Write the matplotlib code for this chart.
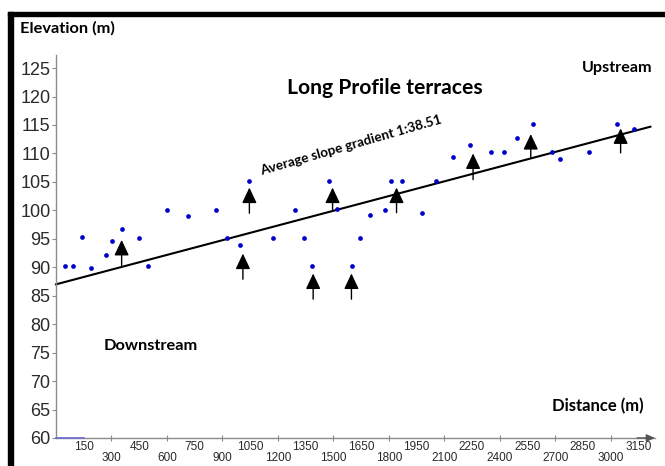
import matplotlib
matplotlib.use("Agg")
import matplotlib.pyplot as plt
from matplotlib.patches import Rectangle

# ---- data ----
distance = [48, 92, 143, 189, 272, 303, 355, 451, 496, 600, 712, 863, 924, 997,
            1046, 1175, 1291, 1343, 1386, 1478, 1518, 1599, 1642, 1696, 1777,
            1813, 1873, 1981, 2055, 2145, 2237, 2354, 2424, 2492, 2578, 2683,
            2728, 2883, 3033, 3128]
elevation = [90.3, 90.3, 95.3, 89.8, 92.2, 94.6, 96.8, 95.2, 90.2, 100.1,
             99.0, 100.1, 95.2, 94.0, 105.2, 95.2, 100.1, 95.2, 90.3, 105.2,
             100.2, 90.3, 95.2, 99.1, 100.1, 105.2, 105.2, 99.6, 105.2, 109.3,
             111.5, 110.2, 110.2, 112.7, 115.2, 110.3, 109.0, 110.2, 115.2, 114.3]

trend_x = [0, 3215]
trend_y = [87.0, 114.7]

arrow_x = [355, 1046, 1011, 1391, 1496, 1598, 1842, 2256, 2568, 3054]
arrow_tail = [90.3, 99.5, 87.9, 84.4, 100.1, 84.4, 99.6, 105.4, 109.3, 110.1]
arrow_tip = [94.8, 104.0, 92.4, 88.9, 104.0, 88.9, 104.0, 110.0, 113.4, 114.4]

yticks = list(range(60, 130, 5))
xticks_upper = list(range(150, 3300, 300))   # 150, 450, ... 3150
xticks_lower = list(range(300, 3150, 300))   # 300, 600, ... 3000

W, H = 665, 466
fig = plt.figure(figsize=(W / 100, H / 100), dpi=100)
fig.patch.set_facecolor("white")

# frame decorations (black border at top and left)
fig.patches.append(Rectangle((8 / W, 0), 5 / W, 1 - 12 / H, transform=fig.transFigure,
                             color="black", zorder=0))
fig.patches.append(Rectangle((8 / W, 1 - 16 / H), 1 - 8 / W, 4 / H, transform=fig.transFigure,
                             color="black", zorder=0))

ax_left, ax_right, ax_bottom, ax_top = 56, 655, 438, 55
ax = fig.add_axes([ax_left / W, 1 - ax_bottom / H, (ax_right - ax_left) / W,
                   (ax_bottom - ax_top) / H])
ax.set_xlim(0, 3240)
ax.set_ylim(60, 127.3)
ax.patch.set_alpha(0)

for s in ["top", "right"]:
    ax.spines[s].set_visible(False)
ax.spines["left"].set_color("#8c8c8c")
ax.spines["bottom"].set_color("#8c8c8c")
ax.spines["left"].set_linewidth(1.0)
ax.spines["bottom"].set_linewidth(1.0)

# y ticks
ax.set_yticks(yticks)
ax.set_yticklabels([str(v) for v in yticks], fontfamily="Liberation Sans", fontsize=13,
                   color="#2a2a2a")
ax.tick_params(axis="y", length=3, width=0.8, color="#8c8c8c", pad=1)

# x ticks: upper row labels (no tick marks), lower row labels with tick marks
ax.set_xticks(xticks_upper)
ax.set_xticklabels([str(v) for v in xticks_upper], fontfamily="Liberation Sans",
                   fontsize=8.5, color="#2a2a2a")
ax.tick_params(axis="x", which="major", length=0, pad=2.5)
ax.set_xticks(xticks_lower, minor=True)
ax.set_xticklabels([str(v) for v in xticks_lower], minor=True,
                   fontfamily="Liberation Sans", fontsize=8.5, color="#2a2a2a")
ax.tick_params(axis="x", which="minor", length=4, width=0.8, color="#8c8c8c",
               direction="inout", pad=8.3)

# axis arrow at the right end
ax.annotate("", xy=(1.0, 0), xycoords="axes fraction", xytext=(0.97, 0),
            arrowprops=dict(arrowstyle="-|>,head_length=0.5,head_width=0.22",
                            color="#555555", lw=1.0, shrinkA=0, shrinkB=0,
                            mutation_scale=10))
ax.plot([0, 150], [60, 60], color="#6a6ad0", lw=1.2, clip_on=False, zorder=3)

# trend line
ax.plot(trend_x, trend_y, color="black", lw=1.5, zorder=2, clip_on=False)

# data points
ax.plot(distance, elevation, linestyle="none", marker="o", markersize=3.4,
        color="#0000cc", markeredgewidth=0, zorder=4)

# arrows
for x, t0, t1 in zip(arrow_x, arrow_tail, arrow_tip):
    ax.annotate("", xy=(x, t1), xytext=(x, t0),
                arrowprops=dict(arrowstyle="-|>,head_length=0.95,head_width=0.45",
                                color="black", lw=1.0, shrinkA=0, shrinkB=0,
                                mutation_scale=10), zorder=5)

# texts
lab = dict(fontfamily="Lato", fontweight="bold", color="black")


def ftext(px, py, s, size, ha="center", va="center", rot=0):
    fig.text(px / W, 1 - py / H, s, fontsize=size, ha=ha, va=va, rotation=rot,
             rotation_mode="anchor", **lab)


ftext(20, 28, "Elevation (m)", 11.8, ha="left")
ftext(385, 88, "Long Profile terraces", 15.2)
ftext(617, 68, "Upstream", 11.6)
ftext(151, 346, "Downstream", 11.8)
ftext(598, 406, "Distance (m)", 12)
ftext(351, 145, "Average slope gradient 1:38.51", 9.7, rot=16)

fig.savefig("out.png", dpi=100)
